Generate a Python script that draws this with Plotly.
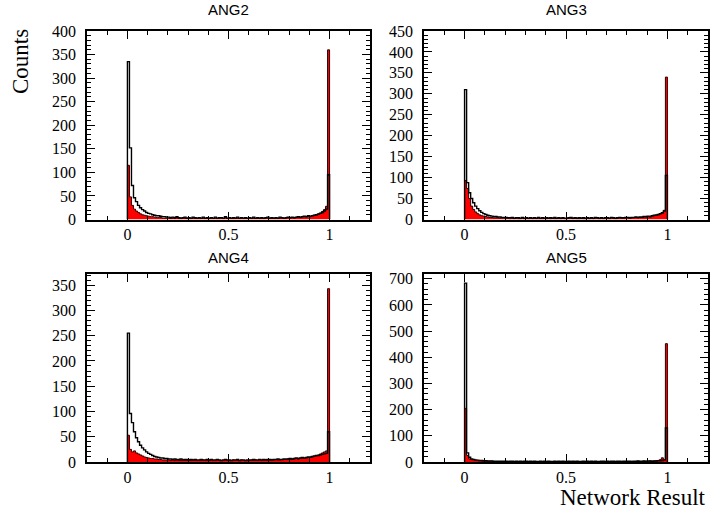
import numpy as np
import plotly.graph_objects as go

# ---- data: counts per bin (bin width 0.01, from 0 to 1) ----
panel_titles = ["ANG2", "ANG3", "ANG4", "ANG5"]

ang2_all = [335,152,72,46,38,30,25,21,18,15,13,12,10,9,8,8,7,6,6,5,
            5,4,5,4,6,4,3,4,5,3,4,3,5,4,3,4,3,5,3,4,
            3,4,3,5,3,4,4,3,6,3,4,3,4,3,5,3,4,3,4,3,
            4,3,5,3,4,3,4,3,4,5,3,4,3,4,3,5,4,3,4,5,
            4,5,4,5,6,5,6,7,6,8,7,8,9,10,11,13,15,18,22,95]
ang2_sig = [115,48,30,22,18,15,12,10,9,8,7,6,6,5,4,4,4,3,3,3,
            3,2,3,2,4,2,2,3,3,2,3,2,3,2,2,3,2,3,2,2,
            2,3,2,3,2,2,3,2,4,2,3,2,2,3,3,2,3,2,2,2,
            3,2,3,2,3,2,3,2,3,3,2,3,2,3,2,3,3,2,3,4,
            3,4,3,4,5,4,5,6,5,7,6,8,9,10,12,14,17,21,28,360]

ang3_all = [310,88,64,50,40,32,26,21,17,14,12,10,9,8,7,7,6,6,5,5,
            5,4,4,5,3,4,4,3,5,3,4,3,4,3,4,3,5,3,4,3,
            4,3,4,3,5,3,4,3,4,3,3,4,5,3,4,3,4,3,4,3,
            4,3,4,3,5,4,3,4,3,4,4,3,5,4,3,4,5,4,4,5,
            5,4,5,5,6,5,6,6,7,7,8,7,9,10,11,12,14,16,20,105]
ang3_sig = [93,74,50,32,24,18,14,11,9,8,7,6,5,5,4,4,4,3,3,3,
            3,3,2,3,2,3,2,2,3,2,3,2,3,2,3,2,3,2,2,3,
            2,3,2,3,2,2,3,2,3,2,2,3,3,2,3,2,2,3,2,2,
            3,2,3,2,3,3,2,3,2,3,3,2,4,3,2,3,4,3,3,4,
            4,3,4,4,5,4,5,5,6,6,7,6,8,9,10,11,13,15,22,340]

ang4_all = [255,96,78,60,48,40,33,28,24,20,17,15,13,11,10,9,8,8,7,7,
            6,6,5,6,5,5,6,4,5,5,4,5,4,5,4,4,5,4,4,5,
            4,5,4,4,5,4,3,4,5,4,4,3,4,4,5,3,4,4,3,4,
            4,4,5,4,4,5,4,5,4,5,5,4,5,5,6,5,5,6,6,6,
            7,6,7,8,7,8,9,8,9,10,10,11,12,13,13,14,15,16,17,60]
ang4_sig = [53,25,20,22,18,16,14,12,10,9,8,7,7,6,6,5,5,4,4,4,
            4,3,4,3,4,3,3,4,3,3,4,3,3,4,3,3,3,4,3,3,
            3,4,3,3,4,3,3,3,4,3,3,3,4,3,3,3,4,3,3,3,
            3,4,3,4,3,4,3,4,4,3,4,4,4,5,4,4,5,5,5,6,
            6,5,6,7,6,7,8,7,8,9,9,10,11,12,14,16,18,20,22,343]

ang5_all = [683,35,18,12,10,8,7,6,6,5,5,4,4,4,3,3,3,3,3,3,
            3,2,3,3,2,3,2,3,2,3,3,2,3,2,3,2,2,3,2,3,
            2,3,2,2,3,2,3,2,3,2,2,3,2,3,2,3,2,2,3,2,
            3,2,3,2,3,2,2,3,3,2,3,2,3,3,2,3,3,2,3,3,
            3,3,2,3,3,4,3,3,4,3,4,4,3,4,4,5,5,6,8,130]
ang5_sig = [205,25,12,9,7,6,5,5,4,4,3,3,3,3,2,2,2,2,2,2,
            2,1,2,2,1,2,1,2,1,2,2,1,2,1,2,1,1,2,1,2,
            1,2,1,1,2,1,2,1,2,1,1,2,1,2,1,2,1,1,2,1,
            2,1,2,1,2,1,1,2,2,1,2,1,2,2,1,2,2,1,2,2,
            2,2,1,2,2,3,2,2,3,2,3,4,3,4,5,6,9,16,8,452]

all_series = [ang2_all, ang3_all, ang4_all, ang5_all]
sig_series = [ang2_sig, ang3_sig, ang4_sig, ang5_sig]
y_max = [400, 450, 372, 718]
y_major = [50, 50, 50, 100]
y_minor = [10, 10, 10, 20]

x_tickvals = [0, 0.5, 1]
x_ticktext = ["0", "0.5", "1"]

# ---- layout geometry ----
W, H = 711, 510
x_domains = [(87 / W, 370 / W), (424 / W, 708 / W), (87 / W, 370 / W), (424 / W, 708 / W)]
top_row = (1 - 219.5 / H, 1 - 31 / H)
bot_row = (1 - 462 / H, 1 - 274 / H)
y_domains = [top_row, top_row, bot_row, bot_row]
title_shift = [11, 11, 6, 6]

edges = np.round(np.arange(0, 1.0001, 0.01), 2)


def step_xy(vals):
    x = [0.0] + list(edges[:-1]) + [1.0, 1.0]
    y = [0] + list(vals) + [vals[-1], 0]
    return x, y


fig = go.Figure()
serif = "Liberation Serif, Times New Roman, serif"
sans = "Liberation Sans, Arial, sans-serif"

layout = dict(
    width=W, height=H, autosize=False,
    margin=dict(l=0, r=0, t=0, b=0, pad=0, autoexpand=False),
    paper_bgcolor="white", plot_bgcolor="white",
    showlegend=False,
    annotations=[],
)

for i in range(4):
    n = "" if i == 0 else str(i + 1)
    xa, ya = "x" + n, "y" + n
    sx, sy = step_xy(sig_series[i])
    ax_, ay_ = step_xy(all_series[i])
    fig.add_trace(go.Scatter(x=sx, y=sy, mode="lines", line_shape="hv",
                             fill="tozeroy", fillcolor="#ff0000",
                             line=dict(color="#300000", width=1),
                             xaxis=xa, yaxis=ya, hoverinfo="skip"))
    fig.add_trace(go.Scatter(x=ax_, y=ay_, mode="lines", line_shape="hv",
                             line=dict(color="black", width=1.4),
                             xaxis=xa, yaxis=ya, hoverinfo="skip"))
    layout["xaxis" + n] = dict(
        domain=list(x_domains[i]), anchor=ya, range=[-0.2, 1.2],
        tickmode="array", tickvals=x_tickvals, ticktext=x_ticktext,
        ticks="inside", ticklen=8, tickwidth=1, tickcolor="black",
        minor=dict(dtick=0.1, tick0=0, ticks="inside", ticklen=4, tickcolor="black", tickwidth=1),
        showline=True, linecolor="black", linewidth=1.5, mirror="ticks",
        showgrid=False, zeroline=False, automargin=False,
        tickfont=dict(family=serif, size=16, color="black"),
    )
    layout["yaxis" + n] = dict(
        domain=list(y_domains[i]), anchor=xa, range=[0, y_max[i]],
        dtick=y_major[i], tick0=0,
        ticks="inside", ticklen=8, tickwidth=1, tickcolor="black",
        minor=dict(dtick=y_minor[i], tick0=0, ticks="inside", ticklen=4, tickcolor="black", tickwidth=1),
        showline=True, linecolor="black", linewidth=1.5, mirror="ticks",
        showgrid=False, zeroline=False, automargin=False,
        tickfont=dict(family=serif, size=16, color="black"),
        ticklabelstandoff=6,
    )
    xc = (x_domains[i][0] + x_domains[i][1]) / 2
    ytop = y_domains[i][1]
    layout["annotations"].append(dict(
        text=panel_titles[i], x=xc, y=ytop, xref="paper", yref="paper",
        xanchor="center", yanchor="bottom", yshift=title_shift[i], showarrow=False,
        font=dict(family=sans, size=15, color="black")))

layout["annotations"].append(dict(
    text="Counts", x=20 / W, y=1 - 62 / H, xref="paper", yref="paper",
    xanchor="center", yanchor="middle", textangle=-90, showarrow=False,
    font=dict(family=serif, size=23, color="black")))
layout["annotations"].append(dict(
    text="Network Result", x=708 / W, y=1 - 497 / H, xref="paper", yref="paper",
    xanchor="right", yanchor="middle", showarrow=False,
    font=dict(family=serif, size=23, color="black")))

fig.update_layout(**layout)
fig.write_html("out.html", config={"displayModeBar": False},
               post_script="document.body.style.margin='0';document.body.style.overflow='hidden';")
